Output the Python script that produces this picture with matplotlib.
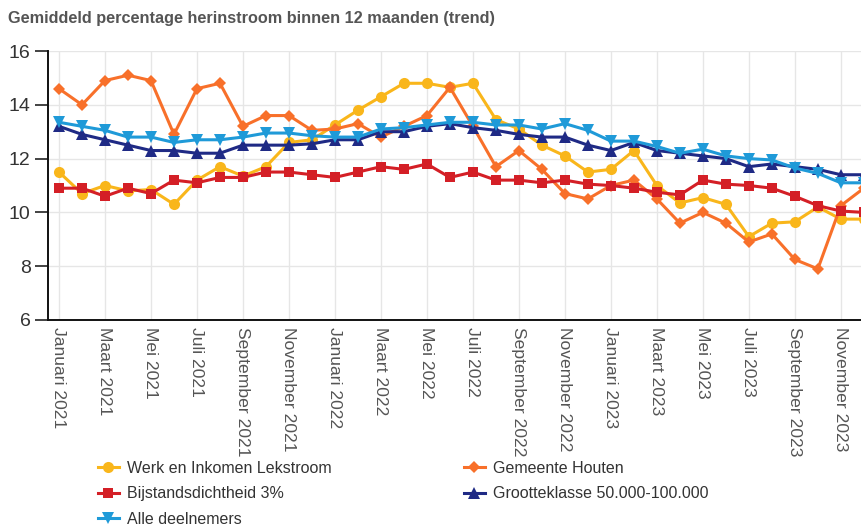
import matplotlib
matplotlib.use("Agg")
import matplotlib.pyplot as plt
from matplotlib.lines import Line2D

plt.rcParams['font.family'] = ['Liberation Sans', 'DejaVu Sans']

months = list(range(36))  # Januari 2021 .. December 2023
tick_pos = list(range(0, 36, 2))
tick_labels = ["Januari 2021", "Maart 2021", "Mei 2021", "Juli 2021", "September 2021", "November 2021",
               "Januari 2022", "Maart 2022", "Mei 2022", "Juli 2022", "September 2022", "November 2022",
               "Januari 2023", "Maart 2023", "Mei 2023", "Juli 2023", "September 2023", "November 2023"]

werk = [11.5, 10.7, 11.0, 10.8, 10.85, 10.3, 11.2, 11.7, 11.35, 11.7, 12.6, 12.7,
        13.25, 13.8, 14.3, 14.8, 14.8, 14.65, 14.8, 13.45, 13.1, 12.5, 12.1, 11.5,
        11.6, 12.3, 11.0, 10.35, 10.55, 10.3, 9.1, 9.6, 9.65, 10.2, 9.75, 9.75]
houten = [14.6, 14.0, 14.9, 15.1, 14.9, 12.9, 14.6, 14.8, 13.2, 13.6, 13.6, 13.05,
          13.1, 13.3, 12.8, 13.2, 13.6, 14.65, 13.2, 11.7, 12.3, 11.6, 10.7, 10.5,
          11.0, 11.2, 10.5, 9.6, 10.0, 9.6, 8.9, 9.2, 8.25, 7.9, 10.25, 10.9]
bijstand = [10.9, 10.9, 10.6, 10.9, 10.7, 11.2, 11.1, 11.3, 11.3, 11.5, 11.5, 11.4,
            11.3, 11.5, 11.7, 11.6, 11.8, 11.3, 11.5, 11.2, 11.2, 11.1, 11.2, 11.05,
            11.0, 10.9, 10.75, 10.65, 11.2, 11.05, 11.0, 10.9, 10.6, 10.25, 10.05, 10.0]
groot = [13.2, 12.9, 12.7, 12.5, 12.3, 12.3, 12.2, 12.2, 12.5, 12.5, 12.5, 12.55,
         12.7, 12.7, 13.0, 13.0, 13.2, 13.3, 13.15, 13.05, 12.9, 12.8, 12.8, 12.5,
         12.3, 12.6, 12.3, 12.2, 12.1, 12.0, 11.7, 11.8, 11.7, 11.6, 11.4, 11.4]
alle = [13.35, 13.2, 13.05, 12.8, 12.8, 12.6, 12.7, 12.7, 12.8, 12.95, 12.95, 12.85,
        12.8, 12.8, 13.1, 13.15, 13.25, 13.35, 13.35, 13.25, 13.25, 13.1, 13.3, 13.05,
        12.65, 12.65, 12.45, 12.2, 12.35, 12.1, 12.0, 11.95, 11.65, 11.45, 11.1, 11.1]

series = [
    ("Werk en Inkomen Lekstroom", werk, "#F9B61B", "o", 8),
    ("Gemeente Houten", houten, "#F8702A", "D", 5.8),
    ("Bijstandsdichtheid 3%", bijstand, "#D41F26", "s", 7.8),
    ("Grootteklasse 50.000-100.000", groot, "#1F2A85", "^", 8),
    ("Alle deelnemers", alle, "#1F9AD8", "v", 8),
]

fig = plt.figure(figsize=(8.62, 5.26), dpi=100)
ax = fig.add_axes([48/862, 206/526, 1 - 48/862, 269/526])

handles = {}
for name, vals, col, mk, ms in series:
    ax.plot(months, vals, color=col, lw=2.2, marker=mk, markersize=ms,
            markeredgewidth=0, solid_joinstyle='round')
    handles[name] = Line2D([], [], color=col, lw=2.2, marker=mk, markersize=ms, markeredgewidth=0)

ax.set_xlim(-0.478, 34.92)
ax.set_ylim(6, 16)
ax.set_yticks([6, 8, 10, 12, 14, 16])
ax.set_xticks(tick_pos)
ax.set_xticklabels(tick_labels, rotation=270, ha='center', va='top', fontsize=12.6, color='#555555')
ax.tick_params(axis='x', length=0, pad=5)
ax.tick_params(axis='y', length=9.5, width=1.2, color='#222222', labelsize=14, labelcolor='#333333', pad=3)
ax.grid(True, color='#E6E6E6', lw=1)
ax.set_axisbelow(True)
for s in ['top', 'right']:
    ax.spines[s].set_visible(False)
for s in ['left', 'bottom']:
    ax.spines[s].set_color('#111111')
    ax.spines[s].set_linewidth(1.4)

fig.text(8/862, 1 - 18/526, "Gemiddeld percentage herinstroom binnen 12 maanden (trend)",
         fontsize=11.7, fontweight='bold', color='#555555', ha='left', va='center')

order = ["Werk en Inkomen Lekstroom", "Bijstandsdichtheid 3%", "Alle deelnemers",
         "Gemeente Houten", "Grootteklasse 50.000-100.000"]
fig.legend([handles[n] for n in order], order, loc='upper left',
           bbox_to_anchor=(98/862, 1 - 461/526), ncol=2, frameon=False,
           fontsize=11.5, handlelength=1.3, handletextpad=0.5, columnspacing=8.3,
           labelspacing=0.65, borderpad=0, borderaxespad=0, labelcolor='#333333')

fig.savefig("out.png", dpi=100)
